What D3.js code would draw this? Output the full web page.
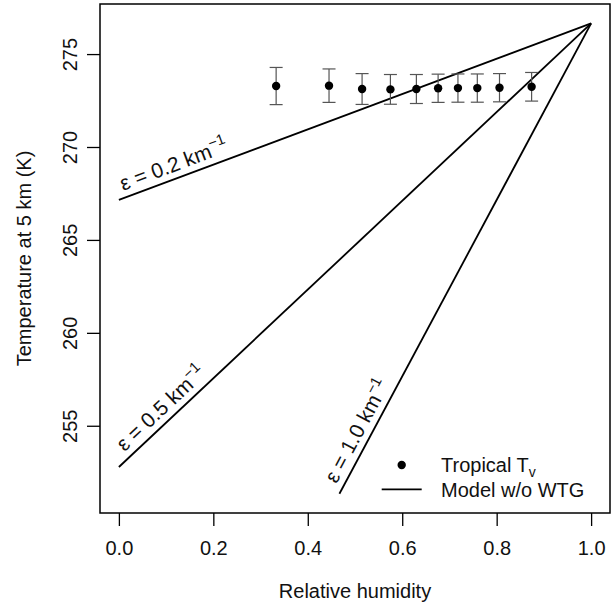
<!DOCTYPE html>
<html>
<head>
<meta charset="utf-8">
<script src="https://cdn.jsdelivr.net/npm/d3@7"></script>
<style>
  body { margin: 0; background: #fff; }
  svg { display: block; font-family: "Liberation Sans", Arial, sans-serif; }
</style>
</head>
<body>
<div id="chart"></div>
<script>
// =========================
// DATA
// =========================
const rh = [0.333, 0.445, 0.515, 0.575, 0.630, 0.676, 0.718, 0.759, 0.806, 0.874];
const tv = [273.28, 273.30, 273.12, 273.10, 273.12, 273.16, 273.17, 273.17, 273.19, 273.24];
const tvErr = [1.00, 0.90, 0.83, 0.80, 0.78, 0.76, 0.76, 0.76, 0.76, 0.77];

// model lines: start / end points (relative humidity, temperature)
const epsValues = ["0.2", "0.5", "1.0"];
const modelStart = [[0, 267.15], [0, 252.78], [0.467, 251.34]];
const modelEnd = [[1, 276.65], [1, 276.65], [1, 276.65]];
const labelAt = [0.014, 0.022, 0.474]; // where each label starts along its line

const xTicks = [0, 0.2, 0.4, 0.6, 0.8, 1.0];
const yTicks = [255, 260, 265, 270, 275];

// =========================
// LAYOUT
// =========================
const W = 616, H = 606;
const plot = { left: 100, right: 610, top: 4, bottom: 513 };

const svg = d3.select("#chart")
    .append("svg")
    .attr("width", W)
    .attr("height", H);

// R style 4% padding around data range
const xlim = [0, 1];
const ylim = [251.32, 276.68];
const pad = (lim) => {
    const d = (lim[1] - lim[0]) * 0.04;
    return [lim[0] - d, lim[1] + d];
};

const x = d3.scaleLinear().domain(pad(xlim)).range([plot.left, plot.right]);
const y = d3.scaleLinear().domain(pad(ylim)).range([plot.bottom, plot.top]);

// =========================
// AXES
// =========================
const xAxis = svg.append("g")
    .attr("transform", `translate(0,${plot.bottom})`)
    .call(d3.axisBottom(x)
        .tickValues(xTicks)
        .tickSize(13)
        .tickSizeOuter(0)
        .tickPadding(15)
        .tickFormat(d3.format(".1f")));
xAxis.select(".domain").remove();
xAxis.selectAll("line").attr("stroke", "#000").attr("stroke-width", 1.3);
xAxis.selectAll("text")
    .style("font-size", "20px")
    .style("font-family", "Liberation Sans, Arial, sans-serif")
    .attr("fill", "#111");

const yAxis = svg.append("g")
    .attr("transform", `translate(${plot.left},0)`)
    .call(d3.axisLeft(y)
        .tickValues(yTicks)
        .tickSize(13)
        .tickSizeOuter(0));
yAxis.select(".domain").remove();
yAxis.selectAll("line").attr("stroke", "#000").attr("stroke-width", 1.3);
yAxis.selectAll("text")
    .attr("transform", "rotate(-90)")
    .attr("x", 0)
    .attr("y", -23)
    .attr("dy", 0)
    .attr("text-anchor", "middle")
    .style("font-size", "20px")
    .style("font-family", "Liberation Sans, Arial, sans-serif")
    .attr("fill", "#111");

// box
svg.append("rect")
    .attr("x", plot.left)
    .attr("y", plot.top)
    .attr("width", plot.right - plot.left)
    .attr("height", plot.bottom - plot.top)
    .attr("fill", "none")
    .attr("stroke", "#000")
    .attr("stroke-width", 1.5);

// axis titles
svg.append("text")
    .attr("x", (plot.left + plot.right) / 2)
    .attr("y", 598)
    .attr("text-anchor", "middle")
    .style("font-size", "20px")
    .attr("fill", "#111")
    .text("Relative humidity");

svg.append("text")
    .attr("transform", `translate(31,${(plot.top + plot.bottom) / 2}) rotate(-90)`)
    .attr("text-anchor", "middle")
    .style("font-size", "20px")
    .attr("fill", "#111")
    .text("Temperature at 5 km (K)");

// =========================
// MODEL LINES
// =========================
const line = d3.line()
    .x(d => x(d[0]))
    .y(d => y(d[1]));

epsValues.forEach((eps, i) => {
    const p0 = modelStart[i], p1 = modelEnd[i];
    svg.append("path")
        .datum([p0, p1])
        .attr("fill", "none")
        .attr("stroke", "#000")
        .attr("stroke-width", 1.8)
        .attr("d", line);

    // label along the line
    const t = (labelAt[i] - p0[0]) / (p1[0] - p0[0]);
    const lx = labelAt[i];
    const ly = p0[1] + t * (p1[1] - p0[1]);
    const sx = x(lx), sy = y(ly);
    const ang = Math.atan2(y(p1[1]) - y(p0[1]), x(p1[0]) - x(p0[0])) * 180 / Math.PI;

    const label = svg.append("text")
        .attr("transform", `translate(${sx},${sy}) rotate(${ang}) translate(0,-7)`)
        .style("font-size", "21px")
        .attr("fill", "#111");
    label.append("tspan").text("\u03b5 = " + eps + " km");
    label.append("tspan")
        .attr("dy", -9)
        .style("font-size", "15px")
        .text("\u22121");
});

// =========================
// OBSERVATIONS WITH ERROR BARS
// =========================
const obs = rh.map((d, i) => ({ rh: d, t: tv[i], e: tvErr[i] }));
const cap = 6.5;

const bars = svg.append("g")
    .attr("stroke", "#555")
    .attr("stroke-width", 1.2);

obs.forEach(d => {
    const cx = x(d.rh);
    bars.append("line")
        .attr("x1", cx).attr("x2", cx)
        .attr("y1", y(d.t - d.e)).attr("y2", y(d.t + d.e));
    bars.append("line")
        .attr("x1", cx - cap).attr("x2", cx + cap)
        .attr("y1", y(d.t + d.e)).attr("y2", y(d.t + d.e));
    bars.append("line")
        .attr("x1", cx - cap).attr("x2", cx + cap)
        .attr("y1", y(d.t - d.e)).attr("y2", y(d.t - d.e));
});

svg.selectAll(".dot")
    .data(obs)
    .enter()
    .append("circle")
    .attr("cx", d => x(d.rh))
    .attr("cy", d => y(d.t))
    .attr("r", 4.2)
    .attr("fill", "#000");

// =========================
// LEGEND
// =========================
const legend = svg.append("g");

legend.append("circle")
    .attr("cx", 401.7)
    .attr("cy", 465)
    .attr("r", 4.2)
    .attr("fill", "#000");

const lt = legend.append("text")
    .attr("x", 441)
    .attr("y", 472)
    .style("font-size", "20px")
    .attr("fill", "#111");
lt.append("tspan").text("Tropical T");
lt.append("tspan")
    .attr("dy", 5)
    .style("font-size", "14px")
    .text("v");

legend.append("line")
    .attr("x1", 381.7).attr("x2", 421.7)
    .attr("y1", 489.3).attr("y2", 489.3)
    .attr("stroke", "#000")
    .attr("stroke-width", 1.8);

legend.append("text")
    .attr("x", 441)
    .attr("y", 496.5)
    .style("font-size", "20px")
    .attr("fill", "#111")
    .text("Model w/o WTG");
</script>
</body>
</html>
